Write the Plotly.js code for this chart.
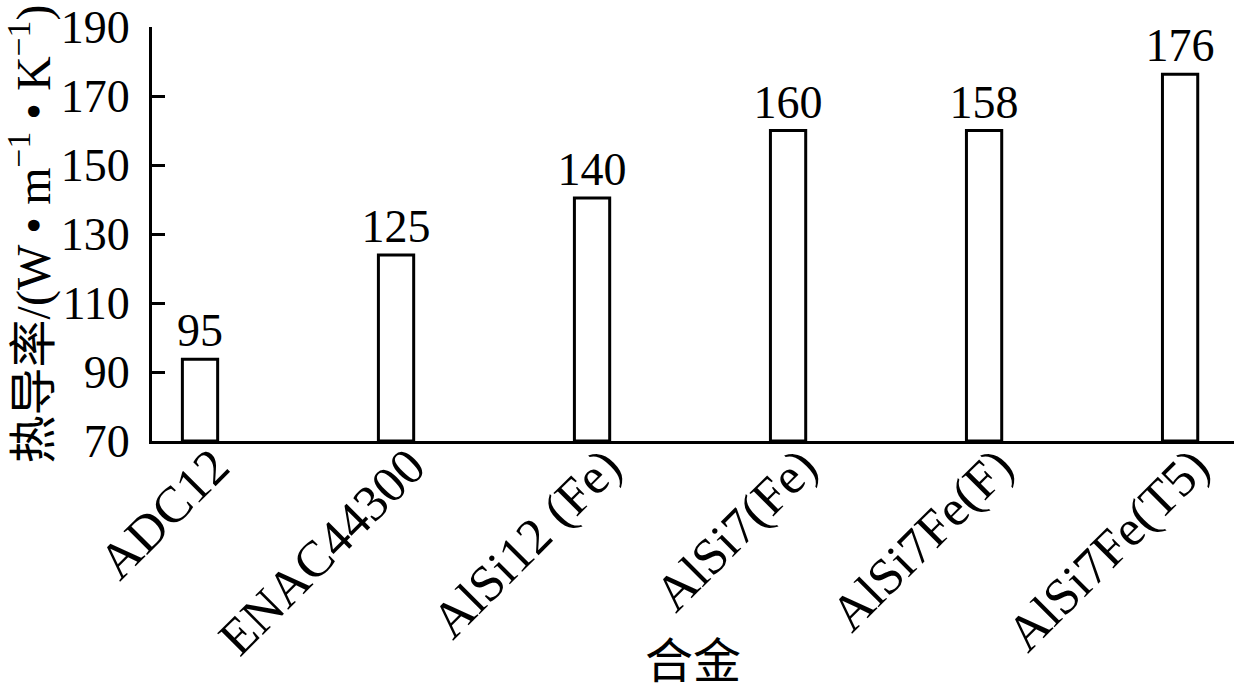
<!DOCTYPE html>
<html>
<head>
<meta charset="utf-8">
<script src="https://cdn.plot.ly/plotly-3.0.1.min.js"></script>
<style>html,body{margin:0;padding:0;background:#fff;}#chart{width:1234px;height:688px;}</style>
</head>
<body>
<div id="chart"></div>
<script>
const categories = ["ADC12", "ENAC44300", "AlSi12 (Fe)", "AlSi7(Fe)", "AlSi7Fe(F)", "AlSi7Fe(T5)"];
const barValues = [93.7, 123.9, 140.4, 160.0, 160.0, 176.3];
const barLabels = ["95", "125", "140", "160", "158", "176"];
const yTicks = [70, 90, 110, 130, 150, 170, 190];
const yBase = 70;

const FONT = "Liberation Serif, Times New Roman, Noto Sans CJK SC, serif";

const trace = {
  type: "bar",
  x: categories.map((c, i) => i),
  y: barValues.map(v => v - yBase),
  base: yBase,
  text: barLabels,
  textposition: "outside",
  constraintext: "none",
  textfont: {family: FONT, size: 46, color: "#000"},
  cliponaxis: false,
  width: 0.18,
  marker: {color: "#fff", line: {color: "#000", width: 3}},
  hoverinfo: "none"
};

const layout = {
  width: 1234, height: 688,
  margin: {l: 152, r: 0, t: 27, b: 247},
  paper_bgcolor: "#fff", plot_bgcolor: "#fff",
  showlegend: false,
  font: {family: FONT, color: "#000", size: 44},
  xaxis: {
    range: [-0.245, 5.275],
    tickmode: "array",
    tickvals: categories.map((c, i) => i),
    ticktext: categories,
    tickangle: -45,
    ticks: "",
    ticklabelstandoff: -28,
    ticklabelshift: 14,
    showgrid: false, zeroline: false,
    showline: true, linecolor: "#000", linewidth: 3,
    tickfont: {family: FONT, size: 51, color: "#000"},
    title: {text: "合金", font: {family: FONT, size: 48, color: "#000"}, standoff: 4}
  },
  yaxis: {
    range: [70, 190],
    tickmode: "array",
    tickvals: yTicks,
    ticktext: yTicks.map(String),
    ticks: "inside", ticklen: 13, tickwidth: 3, tickcolor: "#000",
    ticklabelstandoff: 10,
    showgrid: false, zeroline: false,
    showline: true, linecolor: "#000", linewidth: 3,
    tickfont: {family: FONT, size: 46, color: "#000"},
    title: {text: "热导率/(W • m<sup>−1</sup> • K<sup>−1</sup>)", font: {family: FONT, size: 48, color: "#000"}, standoff: 8}
  }
};

Plotly.newPlot("chart", [trace], layout, {displayModeBar: false, staticPlot: true});
</script>
</body>
</html>
